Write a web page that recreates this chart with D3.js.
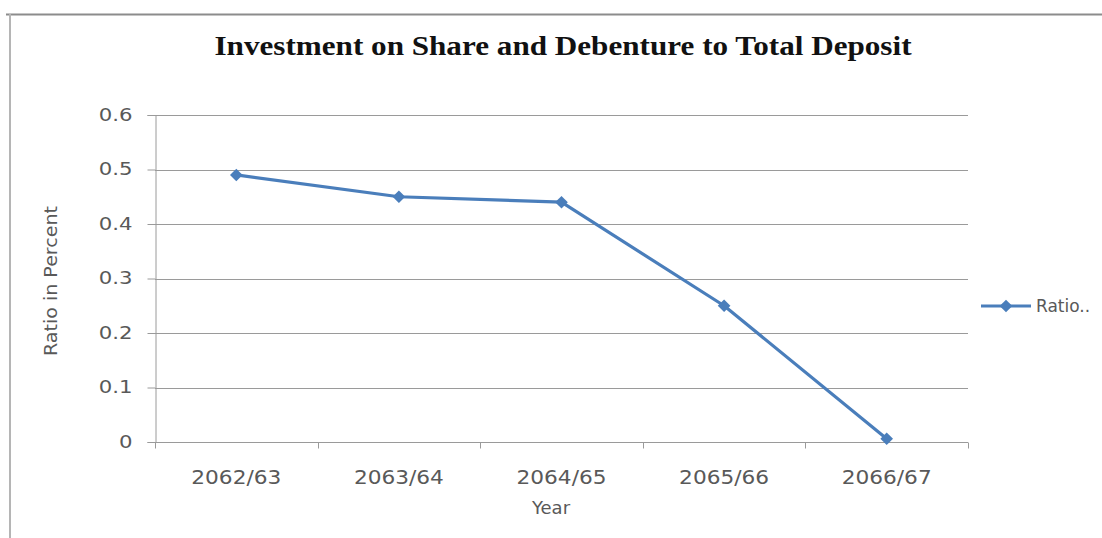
<!DOCTYPE html>
<html>
<head>
<meta charset="utf-8">
<script src="https://cdn.jsdelivr.net/npm/d3@7/dist/d3.min.js"></script>
<style>
  html, body { margin: 0; padding: 0; background: #fff; overflow: hidden; }
  svg { display: block; }
</style>
</head>
<body>
<script>
// Chart data
const years = ["2062/63", "2063/64", "2064/65", "2065/66", "2066/67"];
const ratio = [0.49, 0.45, 0.44, 0.25, 0.006];
const yTicks = [0, 0.1, 0.2, 0.3, 0.4, 0.5, 0.6];
const seriesName = "Ratio..";

const W = 1102, H = 538;
const plot = { left: 155, right: 968, top: 115, bottom: 442 };
const blue = "#4a7ebb";
const grid = "#9a9a9a";
const labelColor = "#595959";
const sans = "DejaVu Sans, sans-serif";

const svg = d3.select("body").append("svg").attr("width", W).attr("height", H);

// Outer chart frame
svg.append("line").attr("x1", 6).attr("x2", W).attr("y1", 14.5).attr("y2", 14.5)
  .attr("stroke", "#8c8c8c").attr("stroke-width", 2);
svg.append("line").attr("x1", 10).attr("x2", 10).attr("y1", 14).attr("y2", H)
  .attr("stroke", "#b5b5b5").attr("stroke-width", 2);

const x = d3.scaleBand().domain(years).range([plot.left, plot.right]);
const y = d3.scaleLinear().domain([0, 0.6]).range([plot.bottom, plot.top]);

// Widen text horizontally by a factor, keeping its anchor
function widen(sel, k) {
  sel.each(function () {
    const w = this.getComputedTextLength();
    d3.select(this).attr("textLength", w * k).attr("lengthAdjust", "spacingAndGlyphs");
  });
}

// Title
svg.append("text")
  .attr("x", 563).attr("y", 55)
  .attr("text-anchor", "middle")
  .attr("font-family", "Liberation Serif, Times New Roman, serif")
  .attr("font-weight", "bold")
  .attr("font-size", 27)
  .attr("textLength", 697).attr("lengthAdjust", "spacingAndGlyphs")
  .attr("fill", "#111")
  .text("Investment on Share and Debenture to Total Deposit");

// Horizontal gridlines
svg.append("g").selectAll("line").data(yTicks.filter(d => d > 0)).join("line")
  .attr("x1", plot.left).attr("x2", plot.right)
  .attr("y1", d => Math.round(y(d)) + 0.5).attr("y2", d => Math.round(y(d)) + 0.5)
  .attr("stroke", grid).attr("stroke-width", 1);

// Y axis
const yAxis = svg.append("g")
  .attr("transform", `translate(${plot.left + 0.5},0)`)
  .call(d3.axisLeft(y).tickValues(yTicks).tickSize(8).tickPadding(15)
    .tickFormat(d => d === 0 ? "0" : d3.format(".1f")(d)));
yAxis.select(".domain").attr("stroke", grid);
yAxis.selectAll(".tick line").attr("stroke", grid);
yAxis.selectAll(".tick text")
  .attr("font-family", sans)
  .attr("font-size", 17)
  .attr("fill", labelColor)
  .call(widen, 1.25);

// X axis with ticks at category boundaries
const xAxisG = svg.append("g").attr("transform", `translate(0,${Math.round(plot.bottom) + 0.5})`);
xAxisG.append("line").attr("x1", plot.left).attr("x2", plot.right)
  .attr("stroke", grid).attr("stroke-width", 1);
const bounds = years.map(d => x(d)).concat([x(years[years.length - 1]) + x.bandwidth()]);
xAxisG.selectAll("line.tk").data(bounds).join("line").attr("class", "tk")
  .attr("x1", d => Math.round(d) + 0.5).attr("x2", d => Math.round(d) + 0.5)
  .attr("y1", 0).attr("y2", 6)
  .attr("stroke", grid);
xAxisG.selectAll("text").data(years).join("text")
  .attr("x", d => x(d) + x.bandwidth() / 2)
  .attr("y", 41)
  .attr("text-anchor", "middle")
  .attr("font-family", sans)
  .attr("font-size", 19)
  .attr("textLength", 90).attr("lengthAdjust", "spacingAndGlyphs")
  .attr("fill", labelColor)
  .text(d => d);

// Axis titles
svg.append("text")
  .attr("x", 551).attr("y", 514)
  .attr("text-anchor", "middle")
  .attr("font-family", sans)
  .attr("font-size", 18)
  .attr("fill", labelColor)
  .text("Year");

svg.append("text")
  .attr("transform", "translate(57,281) rotate(-90)")
  .attr("text-anchor", "middle")
  .attr("font-family", sans)
  .attr("font-size", 18)
  .attr("textLength", 150).attr("lengthAdjust", "spacingAndGlyphs")
  .attr("fill", labelColor)
  .text("Ratio in Percent");

// Series line
const cx = d => x(d) + x.bandwidth() / 2;
const line = d3.line().x((d, i) => cx(years[i])).y(d => y(d));
svg.append("path").datum(ratio)
  .attr("d", line)
  .attr("fill", "none")
  .attr("stroke", blue)
  .attr("stroke-width", 3.2)
  .attr("stroke-linejoin", "round");

const diamond = d3.symbol().type(d3.symbolSquare).size(80);
svg.append("g").selectAll("path").data(ratio).join("path")
  .attr("d", diamond)
  .attr("transform", (d, i) => `translate(${cx(years[i])},${y(d)}) rotate(45)`)
  .attr("fill", blue);

// Legend
const lg = svg.append("g").attr("transform", "translate(981,306)");
lg.append("line").attr("x1", 0).attr("x2", 50).attr("y1", 0).attr("y2", 0)
  .attr("stroke", blue).attr("stroke-width", 3.2);
lg.append("path").attr("d", diamond).attr("transform", "translate(25,0) rotate(45)").attr("fill", blue);
lg.append("text")
  .attr("x", 55).attr("y", 6)
  .attr("font-family", sans)
  .attr("font-size", 17)
  .attr("fill", labelColor)
  .text(seriesName);
</script>
</body>
</html>
